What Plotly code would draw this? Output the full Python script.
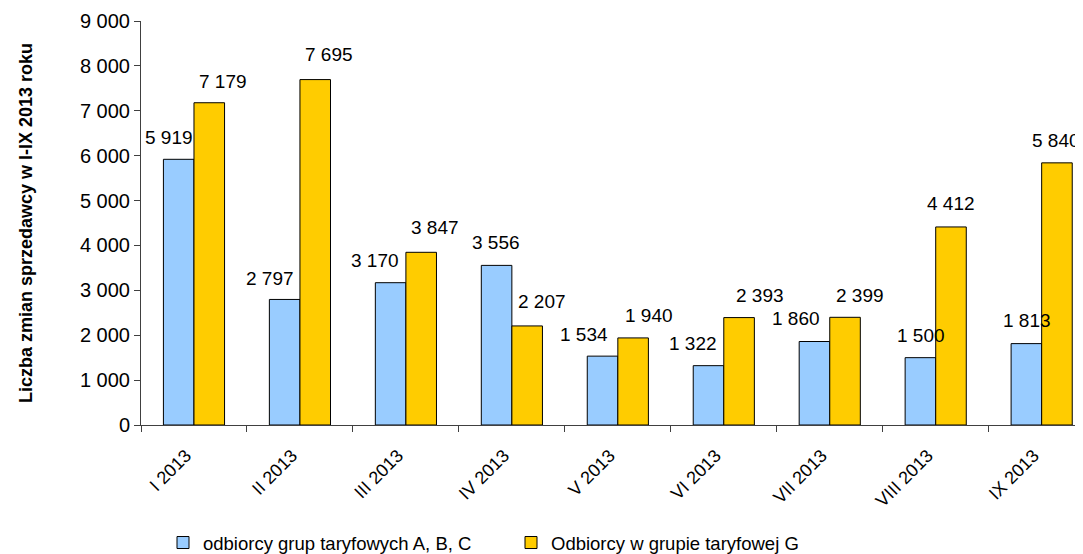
import plotly.graph_objects as go

categories = ["I 2013", "II 2013", "III 2013", "IV 2013", "V 2013",
              "VI 2013", "VII 2013", "VIII 2013", "IX 2013"]
series_abc_name = "odbiorcy grup taryfowych A, B, C"
series_g_name = "Odbiorcy w grupie taryfowej G"
abc_values = [5919, 2797, 3170, 3556, 1534, 1322, 1860, 1500, 1813]
g_values = [7179, 7695, 3847, 2207, 1940, 2393, 2399, 4412, 5840]
y_ticks = [0, 1000, 2000, 3000, 4000, 5000, 6000, 7000, 8000, 9000]

# label placement (pixels, relative to category centre / bar top)
abc_label_dx = [-25, -29.5, -31, -15.7, -33.5, -30.5, -33.7, -15, -15]
abc_label_dy = [22, 21, 22.7, 22.7, 22, 21.7, 23, 21.7, 23.6]
g_label_dx = [29.5, 29.5, 29, 30.5, 31.2, 36.3, 30.5, 14.8, 14.5]
g_label_dy = [21, 24.7, 25, 24, 22, 22, 21.6, 23.7, 22.8]

FONT = "Arial, Liberation Sans, sans-serif"
W, H = 1075, 546


def fmt(v):
    return f"{v:,}".replace(",", " ")


fig = go.Figure()
fig.add_trace(go.Bar(
    x=categories, y=abc_values, name=series_abc_name,
    marker=dict(color="#99CCFF", line=dict(color="#000000", width=1)),
))
fig.add_trace(go.Bar(
    x=categories, y=g_values, name=series_g_name,
    marker=dict(color="#FFCC00", line=dict(color="#000000", width=1)),
))

annotations = []
for cat, v, dx, dy in zip(categories, abc_values, abc_label_dx, abc_label_dy):
    annotations.append(dict(x=cat, y=v, xref="x", yref="y", text=fmt(v),
                            showarrow=False, xshift=dx, yshift=dy,
                            xanchor="center", yanchor="middle",
                            font=dict(family=FONT, size=19, color="#000")))
for cat, v, dx, dy in zip(categories, g_values, g_label_dx, g_label_dy):
    annotations.append(dict(x=cat, y=v, xref="x", yref="y", text=fmt(v),
                            showarrow=False, xshift=dx, yshift=dy,
                            xanchor="center", yanchor="middle",
                            font=dict(family=FONT, size=19, color="#000")))

fig.update_layout(
    width=W, height=H,
    margin=dict(l=132.5, r=0, t=13, b=129, pad=0),
    paper_bgcolor="white", plot_bgcolor="white",
    font=dict(family=FONT, size=17, color="#000"),
    separators=", ",
    barmode="group", bargap=0.423, bargroupgap=0,
    showlegend=True,
    legend=dict(orientation="h", xref="container", yref="container",
                x=155 / W, y=(H - 535) / H, xanchor="left", yanchor="middle",
                entrywidth=303, entrywidthmode="pixels",
                font=dict(family=FONT, size=18.5, color="#000"),
                bgcolor="rgba(0,0,0,0)", borderwidth=0),
    annotations=annotations,
    xaxis=dict(
        type="category", range=[-0.5, 8.39],
        showline=True, linecolor="#404040", linewidth=1,
        ticks="outside", tickson="boundaries", ticklen=6, tickcolor="#404040",
        tickangle=-45, tickfont=dict(family=FONT, size=18, color="#000"),
        ticklabelstandoff=12, ticklabelshift=-8,
        showgrid=False, zeroline=False,
    ),
    yaxis=dict(
        range=[0, 9000], tickvals=y_ticks, tickformat=",d",
        showline=True, linecolor="#404040", linewidth=1,
        ticks="outside", ticklen=6, tickcolor="#404040",
        tickfont=dict(family=FONT, size=20, color="#000"),
        showgrid=False, zeroline=False,
        title=dict(text="<b>Liczba zmian sprzedawcy w I-IX 2013 roku</b>",
                   font=dict(family=FONT, size=18, color="#000"), standoff=42),
    ),
)

fig.write_html("out.html")
